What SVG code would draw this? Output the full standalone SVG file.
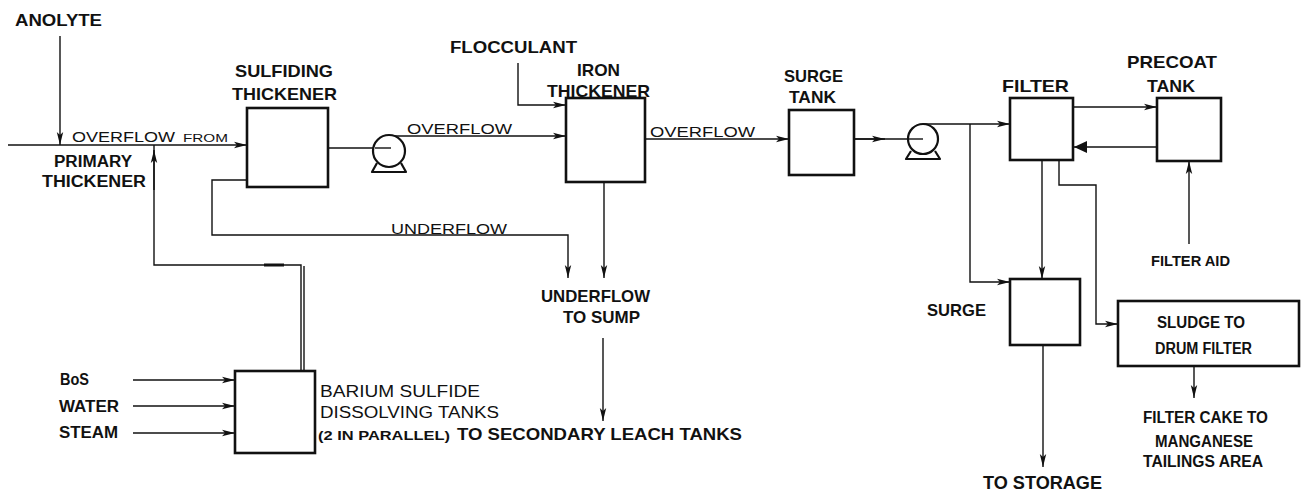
<svg xmlns="http://www.w3.org/2000/svg" width="1306" height="495" viewBox="0 0 1306 495">
<style>
.box{fill:#fff;stroke:#111;stroke-width:2.6}
.ln{fill:none;stroke:#111;stroke-width:1.4}
.pump{fill:#fff;stroke:#111;stroke-width:2.2}
.pb{fill:none;stroke:#111;stroke-width:2.2;stroke-linejoin:round}
.b{font-family:"Liberation Sans",Arial,sans-serif;font-weight:bold;fill:#111}
.t{font-family:"Liberation Sans",Arial,sans-serif;font-weight:normal;fill:#111}
</style>
<defs>
<marker id="ah" markerUnits="userSpaceOnUse" markerWidth="14" markerHeight="8" refX="13" refY="4" orient="auto">
<path d="M0,0.8 L13,4 L0,7.2 L3,4 Z" fill="#111"/>
</marker>
<marker id="at" markerUnits="userSpaceOnUse" markerWidth="14" markerHeight="12" refX="13" refY="6" orient="auto">
<path d="M0,0 L13,6 L0,12 Z" fill="#111"/>
</marker>
</defs>

<g id="connectors">
<path class="ln" d="M60,36 V145" marker-end="url(#ah)"/>
<path class="ln" d="M8,145 H247" marker-end="url(#ah)"/>
<path class="ln" d="M301,371 V265 H154 V145"/>
<path class="ln" d="M304,371 V266"/>
<path class="ln" d="M154,190 V150" marker-end="url(#ah)"/>
<path fill="none" stroke="#111" stroke-width="3" d="M264,265 H284"/>
<path class="ln" d="M328,148 H389"/>
<path class="ln" d="M392,136 H566" marker-end="url(#ah)"/>
<path class="ln" d="M518,63 V105 H566" marker-end="url(#ah)"/>
<path class="ln" d="M247,180 H212 V235 H568 V278" marker-end="url(#ah)"/>
<path class="ln" d="M604,182 V278" marker-end="url(#ah)"/>
<path class="ln" d="M603,338 V421" marker-end="url(#ah)"/>
<path class="ln" d="M645,139 H789" marker-end="url(#ah)"/>
<path class="ln" d="M854,139 H923"/>
<path class="ln" d="M854,139 H885" marker-end="url(#ah)"/>
<path class="ln" d="M923,124 H1010" marker-end="url(#ah)"/>
<path class="ln" d="M970,124 V282 H1010" marker-end="url(#ah)"/>
<path class="ln" d="M1073,107 H1157" marker-end="url(#ah)"/>
<path class="ln" d="M1157,147 H1074" marker-end="url(#at)"/>
<path class="ln" d="M1189,244 V161" marker-end="url(#ah)"/>
<path class="ln" d="M1042,160 V279" marker-end="url(#ah)"/>
<path class="ln" d="M1059,160 V185 H1096 V324 H1118" marker-end="url(#ah)"/>
<path class="ln" d="M1043,345 V467" marker-end="url(#ah)"/>
<path class="ln" d="M1194,366 V398" marker-end="url(#ah)"/>
<path class="ln" d="M133,380 H235" marker-end="url(#ah)"/>
<path class="ln" d="M133,406 H235" marker-end="url(#ah)"/>
<path class="ln" d="M133,433 H235" marker-end="url(#ah)"/>
</g>

<g id="anolyte"><text class="b" x="15" y="26" font-size="16" textLength="87" lengthAdjust="spacingAndGlyphs">ANOLYTE</text></g>

<g id="primary-overflow">
<text class="t" x="72" y="142" font-size="14" textLength="103" lengthAdjust="spacingAndGlyphs">OVERFLOW</text>
<text class="t" x="183" y="142" font-size="10" textLength="45" lengthAdjust="spacingAndGlyphs">FROM</text>
<text class="b" x="54" y="167" font-size="16" textLength="78" lengthAdjust="spacingAndGlyphs">PRIMARY</text>
<text class="b" x="42" y="187" font-size="16" textLength="104" lengthAdjust="spacingAndGlyphs">THICKENER</text>
</g>

<g id="sulfiding-thickener">
<text class="b" x="235" y="77" font-size="17" textLength="98" lengthAdjust="spacingAndGlyphs">SULFIDING</text>
<text class="b" x="232" y="100" font-size="17" textLength="105" lengthAdjust="spacingAndGlyphs">THICKENER</text>
<rect class="box" x="247" y="108" width="81" height="79"/>
</g>

<g id="pump-1">
<circle class="pump" cx="389" cy="151" r="16"/>
<path class="ln" d="M375,148 H391"/>
<path class="pb" d="M377,163 L372,172 H406 L401,163"/>
</g>

<g id="overflow-1"><text class="t" x="407" y="134" font-size="14" textLength="105" lengthAdjust="spacingAndGlyphs">OVERFLOW</text></g>

<g id="flocculant"><text class="b" x="450" y="53" font-size="16" textLength="127" lengthAdjust="spacingAndGlyphs">FLOCCULANT</text></g>

<g id="iron-thickener">
<text class="b" x="577" y="76" font-size="17" textLength="43" lengthAdjust="spacingAndGlyphs">IRON</text>
<text class="b" x="547" y="97" font-size="17" textLength="103" lengthAdjust="spacingAndGlyphs">THICKENER</text>
<rect class="box" x="566" y="98" width="79" height="84"/>
</g>

<g id="overflow-2"><text class="t" x="650" y="137" font-size="14" textLength="105" lengthAdjust="spacingAndGlyphs">OVERFLOW</text></g>

<g id="underflow-label"><text class="t" x="391" y="234" font-size="15" textLength="116" lengthAdjust="spacingAndGlyphs">UNDERFLOW</text></g>

<g id="underflow-to-sump">
<text class="b" x="541" y="302" font-size="17" textLength="109" lengthAdjust="spacingAndGlyphs">UNDERFLOW</text>
<text class="b" x="563" y="323" font-size="17" textLength="77" lengthAdjust="spacingAndGlyphs">TO SUMP</text>
</g>

<g id="surge-tank">
<text class="b" x="784" y="82" font-size="17" textLength="59" lengthAdjust="spacingAndGlyphs">SURGE</text>
<text class="b" x="789" y="103" font-size="17" textLength="47" lengthAdjust="spacingAndGlyphs">TANK</text>
<rect class="box" x="789" y="110" width="65" height="65"/>
</g>

<g id="pump-2">
<circle class="pump" cx="923" cy="139" r="15"/>
<path class="ln" d="M908,139 H923"/>
<path class="pb" d="M911,151 L906,159 H940 L935,151"/>
</g>

<g id="filter">
<text class="b" x="1002" y="92" font-size="17" textLength="67" lengthAdjust="spacingAndGlyphs">FILTER</text>
<rect class="box" x="1010" y="98" width="63" height="62"/>
</g>

<g id="precoat-tank">
<text class="b" x="1127" y="68" font-size="17" textLength="90" lengthAdjust="spacingAndGlyphs">PRECOAT</text>
<text class="b" x="1147" y="92" font-size="17" textLength="48" lengthAdjust="spacingAndGlyphs">TANK</text>
<rect class="box" x="1157" y="98" width="64" height="63"/>
</g>

<g id="filter-aid"><text class="b" x="1151" y="266" font-size="15" textLength="79" lengthAdjust="spacingAndGlyphs">FILTER AID</text></g>

<g id="surge">
<text class="b" x="927" y="316" font-size="17" textLength="59" lengthAdjust="spacingAndGlyphs">SURGE</text>
<rect class="box" x="1010" y="279" width="70" height="66"/>
</g>

<g id="to-storage"><text class="b" x="983" y="489" font-size="18" textLength="119" lengthAdjust="spacingAndGlyphs">TO STORAGE</text></g>

<g id="sludge-drum-filter">
<rect class="box" x="1118" y="301" width="181" height="65"/>
<text class="b" x="1157" y="328" font-size="16" textLength="88" lengthAdjust="spacingAndGlyphs">SLUDGE TO</text>
<text class="b" x="1155" y="354" font-size="16" textLength="97" lengthAdjust="spacingAndGlyphs">DRUM FILTER</text>
</g>

<g id="filter-cake">
<text class="b" x="1143" y="423" font-size="16" textLength="125" lengthAdjust="spacingAndGlyphs">FILTER CAKE TO</text>
<text class="b" x="1155" y="447" font-size="16" textLength="98" lengthAdjust="spacingAndGlyphs">MANGANESE</text>
<text class="b" x="1143" y="467" font-size="16" textLength="120" lengthAdjust="spacingAndGlyphs">TAILINGS AREA</text>
</g>

<g id="feeds">
<text class="b" x="60" y="385" font-size="16" textLength="29" lengthAdjust="spacingAndGlyphs">BoS</text>
<text class="b" x="59" y="412" font-size="16" textLength="60" lengthAdjust="spacingAndGlyphs">WATER</text>
<text class="b" x="59" y="438" font-size="16" textLength="59" lengthAdjust="spacingAndGlyphs">STEAM</text>
</g>

<g id="barium-sulfide-tanks">
<rect class="box" x="235" y="371" width="80" height="82"/>
<text class="t" x="320" y="397" font-size="16" textLength="160" lengthAdjust="spacingAndGlyphs">BARIUM SULFIDE</text>
<text class="t" x="320" y="418" font-size="16" textLength="179" lengthAdjust="spacingAndGlyphs">DISSOLVING TANKS</text>
<text class="b" x="318" y="440" font-size="12" textLength="132" lengthAdjust="spacingAndGlyphs">(2 IN PARALLEL)</text>
<text class="b" x="457" y="440" font-size="17" textLength="285" lengthAdjust="spacingAndGlyphs">TO SECONDARY LEACH TANKS</text>
</g>
</svg>
